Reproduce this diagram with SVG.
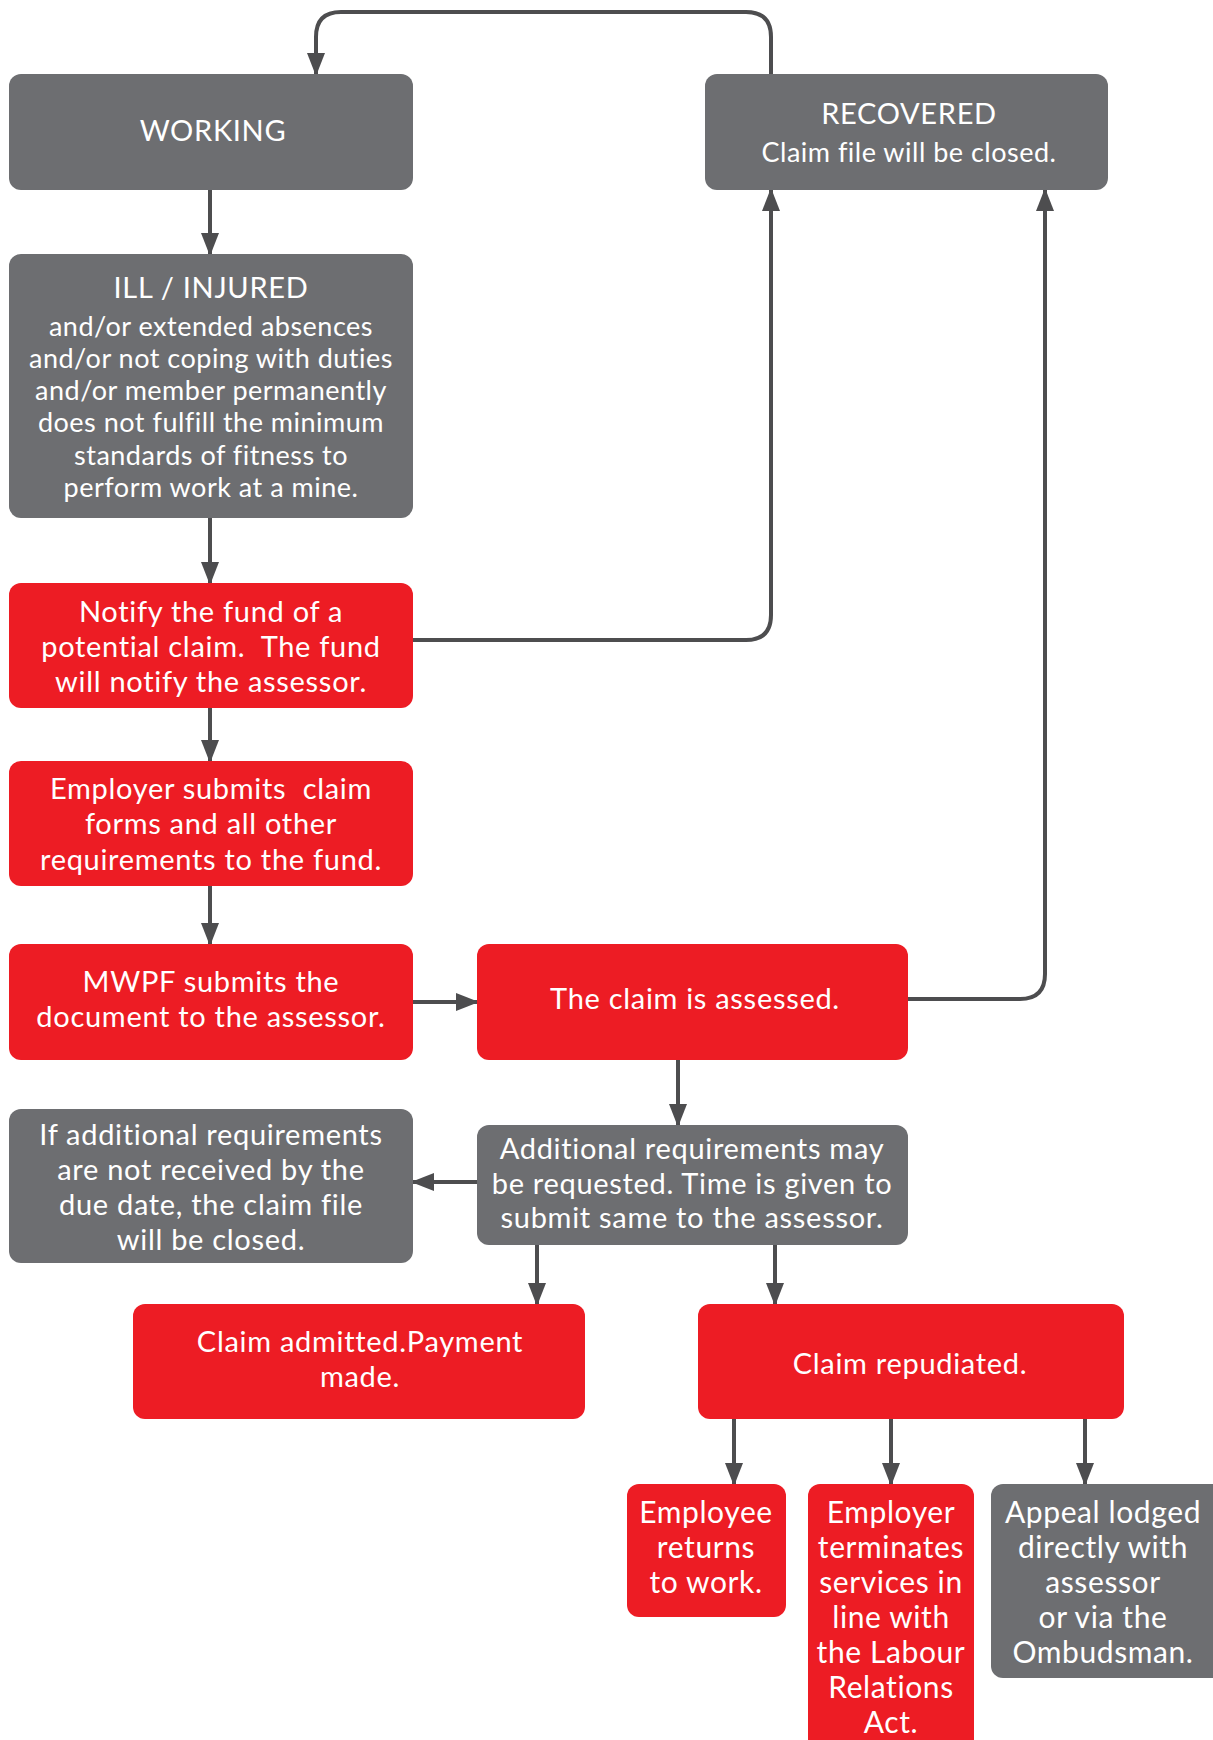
<svg xmlns="http://www.w3.org/2000/svg" width="1213" height="1740" viewBox="0 0 1213 1740">
<style>
.g{fill:#6d6e71}
.r{fill:#ed1c24}
text{font-family:Lato,"Noto Sans","Liberation Sans",sans-serif;fill:#fff;text-anchor:middle}
.t27{font-size:29px;letter-spacing:0.7px}
.t25{font-size:27px;letter-spacing:0.5px}
.t28{font-size:30px;letter-spacing:0.6px}
.pre{white-space:pre}
.c{fill:none;stroke:#4d4d4f;stroke-width:4;marker-end:url(#ah)}
</style>
<defs>
<marker id="ah" markerUnits="userSpaceOnUse" markerWidth="23" markerHeight="18" refX="21" refY="9" orient="auto">
<path d="M0,0 L23,9 L0,18 z" fill="#4d4d4f"/>
</marker>
</defs>
<rect width="1213" height="1740" fill="#fff"/>
<g id="connectors">
<path class="c" d="M771,74 V37 Q771,12 746,12 H341 Q316,12 316,37 V74"/>
<path class="c" d="M210,190 V254"/>
<path class="c" d="M210,518 V583"/>
<path class="c" d="M413,640 H746 Q771,640 771,615 V190"/>
<path class="c" d="M210,708 V761"/>
<path class="c" d="M210,886 V944"/>
<path class="c" d="M413,1002 H477"/>
<path class="c" d="M908,999 H1020 Q1045,999 1045,974 V190"/>
<path class="c" d="M678,1060 V1125"/>
<path class="c" d="M477,1182 H413"/>
<path class="c" d="M537,1245 V1304"/>
<path class="c" d="M775,1245 V1304"/>
<path class="c" d="M734,1419 V1484"/>
<path class="c" d="M891,1419 V1484"/>
<path class="c" d="M1085,1419 V1484"/>
</g>
<g id="working"><rect class="g" x="9" y="74" width="404" height="116" rx="12"/><text class="t27" x="213" y="141">WORKING</text></g>
<g id="recovered"><rect class="g" x="705" y="74" width="403" height="116" rx="12"/>
<text class="t27" x="909" y="124">RECOVERED</text><text class="t25" x="909" y="162">Claim file will be closed.</text></g>
<g id="ill"><rect class="g" x="9" y="254" width="404" height="264" rx="12"/>
<text class="t27" x="211" y="298">ILL / INJURED</text>
<text class="t25" x="211" y="336">and/or extended absences</text>
<text class="t25" x="211" y="368">and/or not coping with duties</text>
<text class="t25" x="211" y="400">and/or member permanently</text>
<text class="t25" x="211" y="432">does not fulfill the minimum</text>
<text class="t25" x="211" y="465">standards of fitness to</text>
<text class="t25" x="211" y="497">perform work at a mine.</text></g>
<g id="notify"><rect class="r" x="9" y="583" width="404" height="125" rx="12"/>
<text class="t27" x="211" y="622">Notify the fund of a</text>
<text class="t27 pre" x="211" y="657">potential claim.  The fund</text>
<text class="t27" x="211" y="692">will notify the assessor.</text></g>
<g id="employer-submits"><rect class="r" x="9" y="761" width="404" height="125" rx="12"/>
<text class="t27 pre" x="211" y="799">Employer submits  claim</text>
<text class="t27" x="211" y="834">forms and all other</text>
<text class="t27" x="211" y="870">requirements to the fund.</text></g>
<g id="mwpf"><rect class="r" x="9" y="944" width="404" height="116" rx="12"/>
<text class="t27" x="211" y="992">MWPF submits the</text>
<text class="t27" x="211" y="1027">document to the assessor.</text></g>
<g id="assessed"><rect class="r" x="477" y="944" width="431" height="116" rx="12"/>
<text class="t27" x="695" y="1009">The claim is assessed.</text></g>
<g id="additional"><rect class="g" x="477" y="1125" width="431" height="120" rx="12"/>
<text class="t27" x="692" y="1159">Additional requirements may</text>
<text class="t27" x="692" y="1194">be requested. Time is given to</text>
<text class="t27" x="692" y="1228">submit same to the assessor.</text></g>
<g id="closed"><rect class="g" x="9" y="1109" width="404" height="154" rx="12"/>
<text class="t27" x="211" y="1145">If additional requirements</text>
<text class="t27" x="211" y="1180">are not received by the</text>
<text class="t27" x="211" y="1215">due date, the claim file</text>
<text class="t27" x="211" y="1250">will be closed.</text></g>
<g id="admitted"><rect class="r" x="133" y="1304" width="452" height="115" rx="12"/>
<text class="t27" x="360" y="1352">Claim admitted.Payment</text>
<text class="t27" x="360" y="1387">made.</text></g>
<g id="repudiated"><rect class="r" x="698" y="1304" width="426" height="115" rx="12"/>
<text class="t27" x="910" y="1374">Claim repudiated.</text></g>
<g id="returns"><rect class="r" x="627" y="1484" width="159" height="133" rx="12"/>
<text class="t28" x="706" y="1523">Employee</text>
<text class="t28" x="706" y="1558">returns</text>
<text class="t28" x="706" y="1593">to work.</text></g>
<g id="terminates"><rect class="r" x="808" y="1484" width="166" height="280" rx="12"/>
<text class="t28" x="891" y="1523">Employer</text>
<text class="t28" x="891" y="1558">terminates</text>
<text class="t28" x="891" y="1593">services in</text>
<text class="t28" x="891" y="1628">line with</text>
<text class="t28" x="891" y="1663">the Labour</text>
<text class="t28" x="891" y="1698">Relations</text>
<text class="t28" x="891" y="1733">Act.</text></g>
<g id="appeal"><rect class="g" x="991" y="1484" width="240" height="194" rx="12"/>
<text class="t28" x="1103" y="1523">Appeal lodged</text>
<text class="t28" x="1103" y="1558">directly with</text>
<text class="t28" x="1103" y="1593">assessor</text>
<text class="t28" x="1103" y="1628">or via the</text>
<text class="t28" x="1103" y="1663">Ombudsman.</text></g>
</svg>
